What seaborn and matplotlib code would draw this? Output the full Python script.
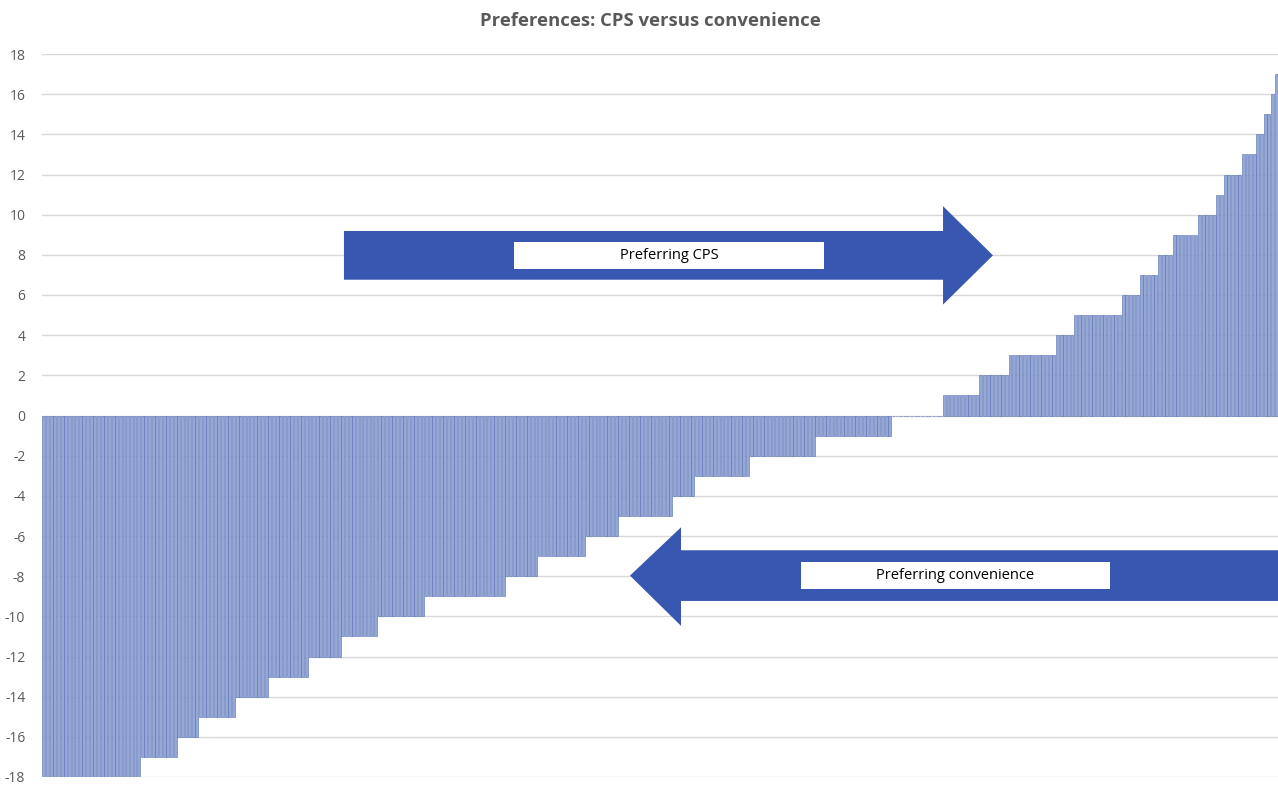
import matplotlib
matplotlib.use("Agg")
import matplotlib.pyplot as plt
import numpy as np
import pandas as pd
import seaborn as sns
from matplotlib.patches import Polygon, Rectangle


# preference score per step, and how many respondents sit on that step (sorted)
SCORE_LEVELS = [-18, -17, -16, -15, -14, -13, -12, -11, -10, -9, -8, -7, -6, -5, -4, -3, -2, -1,
                0, 1, 2, 3, 4, 5, 6, 7, 8, 9, 10, 11, 12, 13, 14, 15, 16, 17]
LEVEL_COUNTS = [27, 10, 6, 10, 9, 11, 9, 10, 13, 22, 9, 13, 9, 15, 6, 15, 18, 21,
                14, 10, 8, 13, 5, 13, 5, 5, 4, 7, 5, 2, 5, 4, 2, 2, 1, 1]
Y_TICKS = list(range(-18, 19, 2))

TITLE = "Preferences: CPS versus convenience"
LABEL_CPS = "Preferring CPS"
LABEL_CONV = "Preferring convenience"

BAR_FILL = "#97a7d3"
BAR_EDGE = "#5470b8"
ARROW_BLUE = "#3757b0"
TEXT_GREY = "#595959"


def build_frame() -> pd.DataFrame:
    scores = np.repeat(SCORE_LEVELS, LEVEL_COUNTS)
    return pd.DataFrame({"respondent": np.arange(len(scores)), "score": scores})


def draw_arrow(ax, tail_x, base_x, tip_x, body, head, label, box_x):
    y_mid = (body[0] + body[1]) / 2
    pts = [
        (tail_x, body[0]), (base_x, body[0]), (base_x, head[0]), (tip_x, y_mid),
        (base_x, head[1]), (base_x, body[1]), (tail_x, body[1]),
    ]
    ax.add_patch(Polygon(pts, closed=True, transform=ax.transAxes,
                         facecolor=ARROW_BLUE, edgecolor="none", zorder=5, clip_on=False))
    box_h = (body[1] - body[0]) * 0.54
    ax.add_patch(Rectangle((box_x[0], y_mid - box_h / 2), box_x[1] - box_x[0], box_h,
                           transform=ax.transAxes, facecolor="white", edgecolor="none", zorder=6))
    ax.text((box_x[0] + box_x[1]) / 2, y_mid, label, transform=ax.transAxes,
            ha="center", va="center", fontsize=10.5, color="black", zorder=7)


def main() -> None:
    sns.set_theme(style="white")
    plt.rcParams["font.family"] = ["Open Sans", "DejaVu Sans"]
    df = build_frame()

    fig = plt.figure(figsize=(12.78, 7.85), dpi=100)
    ax = fig.add_axes([42 / 1278, 8 / 785, 1 - 42 / 1278, 723 / 785])

    sns.barplot(data=df, x="respondent", y="score", color=BAR_FILL, width=0.8,
                edgecolor=BAR_EDGE, linewidth=0.4, saturation=1, ax=ax, zorder=3)

    ax.set_ylim(-18, 18)
    ax.set_xlim(-0.5, len(df) - 0.5)
    ax.set_yticks(Y_TICKS)
    ax.set_yticklabels([str(t) for t in Y_TICKS], fontsize=10, color=TEXT_GREY)
    ax.set_xticks([])
    ax.set_xlabel("")
    ax.set_ylabel("")
    ax.tick_params(axis="y", length=0, pad=12)
    ax.grid(axis="y", color="#d9d9d9", linewidth=1, zorder=0)
    ax.set_axisbelow(True)
    sns.despine(ax=ax, left=True, bottom=True)

    # right-pointing arrow ("Preferring CPS")
    draw_arrow(ax, 0.2443, 0.7290, 0.7694, (0.6878, 0.7552), (0.6534, 0.7895),
               LABEL_CPS, (0.3819, 0.6327))
    # left-pointing arrow ("Preferring convenience")
    draw_arrow(ax, 1.0, 0.5170, 0.4757, (0.2435, 0.3136), (0.2091, 0.3453),
               LABEL_CONV, (0.6141, 0.8641))

    fig.text(650 / 1278, 1 - 21 / 785, TITLE, ha="center", va="center",
             fontsize=13.3, fontweight="bold", color=TEXT_GREY)

    fig.savefig("out.png", dpi=100)


if __name__ == "__main__":
    main()
